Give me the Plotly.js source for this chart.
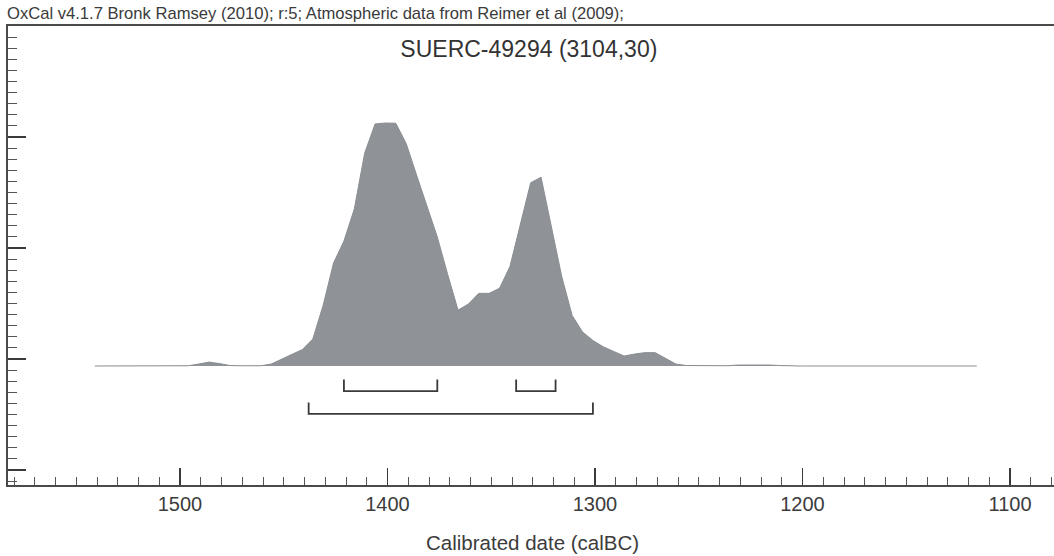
<!DOCTYPE html>
<html>
<head>
<meta charset="utf-8">
<script src="https://cdn.plot.ly/plotly-3.0.1.min.js"></script>
<style>
  html, body { margin: 0; padding: 0; background: #ffffff; overflow: hidden; }
  #chart { width: 1060px; height: 556px; }
</style>
</head>
<body>
<div id="chart"></div>
<script>
// ---- data ----
const sampleName = "SUERC-49294 (3104,30)";
const headerText = "OxCal v4.1.7 Bronk Ramsey (2010); r:5; Atmospheric data from Reimer et al (2009);";
const axisTitle = "Calibrated date (calBC)";

// calendar years (cal BC) of the probability curve
const years = [1541, 1501, 1496, 1491, 1486, 1481, 1476, 1471, 1466, 1461, 1456, 1451, 1446, 1441,
  1436, 1431, 1426, 1421, 1416, 1411, 1406, 1401, 1396, 1391, 1386, 1381, 1376, 1371, 1366, 1361,
  1356, 1351, 1346, 1341, 1336, 1331, 1326, 1321, 1316, 1311, 1306, 1301, 1296, 1291, 1286, 1281,
  1276, 1271, 1266, 1261, 1256, 1251, 1241, 1236, 1231, 1226, 1221, 1216, 1211, 1206, 1201, 1116];
// relative probability (peak = 1)
const prob = [0, 0, 0.001, 0.008, 0.016, 0.010, 0.002, 0.001, 0.001, 0.001, 0.008, 0.027, 0.049, 0.068,
  0.111, 0.250, 0.424, 0.514, 0.646, 0.876, 0.996, 1.000, 0.999, 0.916, 0.786, 0.658, 0.531, 0.377, 0.230, 0.255,
  0.299, 0.299, 0.320, 0.409, 0.587, 0.754, 0.777, 0.573, 0.367, 0.208, 0.140, 0.105, 0.079, 0.060, 0.041, 0.049,
  0.055, 0.055, 0.031, 0.008, 0.002, 0.001, 0, 0.001, 0.004, 0.005, 0.005, 0.004, 0.002, 0.001, 0, 0];

// highest probability ranges (cal BC): [start, end]
const range68 = [[1421, 1376], [1338, 1319]];
const range95 = [[1438, 1301]];

// x axis ticks
const majorTicks = [1500, 1400, 1300, 1200, 1100];

// ---- styling / placement ----
const FONT = '"Liberation Sans", Arial, Helvetica, sans-serif';
const TXT = '#3c3c3c';
const FRAME = '#4a4a4a';
const level68 = -0.103, level95 = -0.197, lip = 0.047;
// decorative left-axis tick spacing (OxCal frame), in plot units
const yTick0 = -0.427984, yDtick = 0.456790;

function bracketTrace(ranges, level) {
  const xs = [], ys = [];
  ranges.forEach(r => {
    xs.push(r[0], r[0], r[1], r[1], null);
    ys.push(level + lip, level, level, level + lip, null);
  });
  return {
    x: xs, y: ys, type: 'scatter', mode: 'lines',
    line: { color: '#3a3a3a', width: 1.8 }, hoverinfo: 'skip', showlegend: false
  };
}

const traces = [
  {
    x: years, y: prob, type: 'scatter', mode: 'lines',
    fill: 'tozeroy', fillcolor: '#8f9398',
    line: { color: '#8a8e93', width: 1 }, hoverinfo: 'skip', showlegend: false
  },
  bracketTrace(range68, level68),
  bracketTrace(range95, level95)
];

const layout = {
  width: 1060, height: 556,
  margin: { l: 8, r: 4, t: 26, b: 71 },
  paper_bgcolor: '#ffffff', plot_bgcolor: '#ffffff',
  font: { family: FONT, color: TXT },
  showlegend: false,
  title: {
    text: sampleName, font: { family: FONT, size: 23, color: '#333333' },
    xref: 'paper', x: 0.497, xanchor: 'center',
    yref: 'container', y: 1 - 49 / 556, yanchor: 'middle'
  },
  xaxis: {
    range: [1582.89, 1077.83],
    tickmode: 'array', tickvals: majorTicks, ticktext: majorTicks.map(String),
    ticks: 'inside', ticklen: 17, tickwidth: 1.5, tickcolor: '#3a3a3a',
    minor: { ticks: 'inside', tickmode: 'linear', tick0: 1100, dtick: 10, ticklen: 8, tickwidth: 1, tickcolor: '#555555', showgrid: false },
    showgrid: false, zeroline: false,
    showline: true, linecolor: FRAME, linewidth: 1.6, mirror: true,
    tickfont: { family: FONT, size: 20, color: TXT },
    ticklabelstandoff: 0,
    fixedrange: true
  },
  yaxis: {
    range: [-0.4897, 1.3992],
    tickmode: 'linear', tick0: yTick0, dtick: yDtick,
    ticks: 'inside', ticklen: 18, tickwidth: 1.6, tickcolor: '#3a3a3a',
    minor: { ticks: 'inside', tickmode: 'linear', tick0: yTick0, dtick: yDtick / 10, ticklen: 9, tickwidth: 1, tickcolor: '#555555', showgrid: false },
    showticklabels: false, showgrid: false, zeroline: false,
    showline: true, linecolor: FRAME, linewidth: 1.6, mirror: true,
    fixedrange: true
  },
  annotations: [
    {
      text: headerText, xref: 'paper', yref: 'paper',
      x: -3 / 1048, y: (485 - 13.5) / 459, xanchor: 'left', yanchor: 'middle',
      showarrow: false, font: { family: FONT, size: 16.6, color: '#3a3a3a' }
    },
    {
      text: axisTitle, xref: 'paper', yref: 'paper',
      x: 0.5, y: (485 - 542) / 459, xanchor: 'center', yanchor: 'middle',
      showarrow: false, font: { family: FONT, size: 20.5, color: TXT }
    }
  ]
};

Plotly.newPlot('chart', traces, layout, { displayModeBar: false, staticPlot: true });
</script>
</body>
</html>
